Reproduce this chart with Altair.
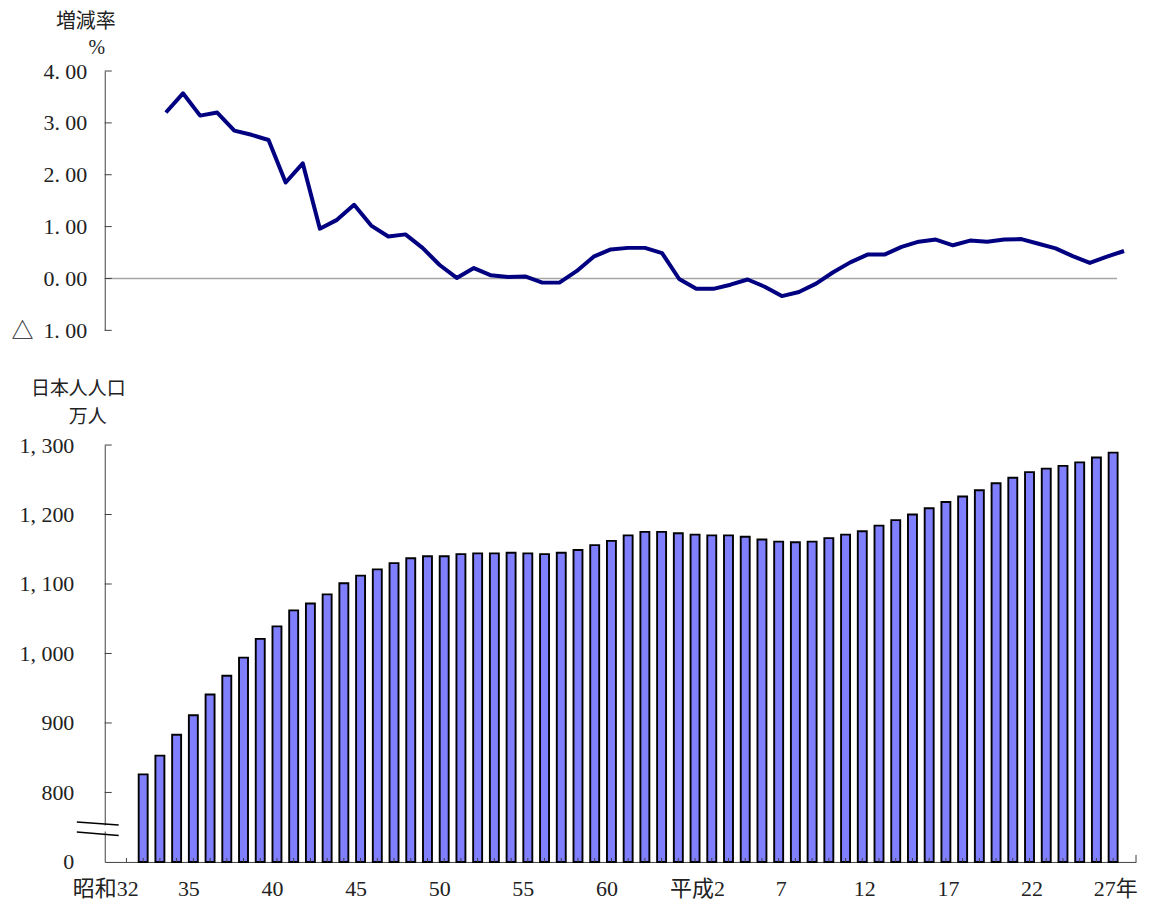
import altair as alt
import pandas as pd

# ---------------- data ----------------
bar_years = list(range(1957, 2016))
population = [826, 853, 883, 911, 941, 968, 994, 1021, 1039, 1062,
              1072, 1085, 1101, 1112, 1121, 1130, 1137, 1140, 1140, 1143,
              1144, 1144, 1145, 1144, 1143, 1145, 1149, 1156, 1162, 1170,
              1175, 1175, 1173, 1171, 1170, 1170, 1168, 1164, 1161, 1160,
              1161, 1166, 1171, 1176, 1184, 1192, 1200, 1209, 1218, 1226,
              1235, 1245, 1253, 1261, 1266, 1270, 1275, 1282, 1289]

rate_years = list(range(1958, 2015))
rates = [3.20, 3.57, 3.14, 3.20, 2.85, 2.77, 2.67, 1.85, 2.22, 0.96,
         1.13, 1.42, 1.02, 0.81, 0.85, 0.59, 0.26, 0.01, 0.20, 0.06,
         0.03, 0.04, -0.08, -0.08, 0.14, 0.42, 0.56, 0.59, 0.59, 0.49,
         -0.01, -0.20, -0.20, -0.12, -0.02, -0.16, -0.34, -0.26, -0.10, 0.12,
         0.31, 0.46, 0.46, 0.61, 0.71, 0.75, 0.64, 0.73, 0.71, 0.75,
         0.76, 0.67, 0.58, 0.43, 0.30, 0.42, 0.53]

tick_years = list(range(1956, 2016))
x_label_years = [1957, 1960, 1965, 1970, 1975, 1980, 1985, 1990, 1995, 2000, 2005, 2010, 2015]
x_label_texts = ["昭和32", "35", "40", "45", "50", "55", "60", "平成2", "7", "12", "17", "22", "27年"]

rate_ticks = [-1, 0, 1, 2, 3, 4]
pop_ticks = [700, 800, 900, 1000, 1100, 1200, 1300]

top_titles = ["増減率", "%"]
bottom_titles = ["日本人人口", "万人"]

# ---------------- style ----------------
NUM_FONT = "Liberation Serif, Noto Sans CJK JP"
JP_FONT = "Noto Sans CJK JP"
TXT = "#222222"
AXC = "#404040"
W_TOP, H_TOP = 1015, 260
W_BOT, H_BOT = 1034, 418

df_rate = pd.DataFrame({"year": rate_years, "rate": rates})
df_pop = pd.DataFrame({"year": bar_years, "pop": population})
one = pd.DataFrame({"k": [0]})

# ---------------- top chart ----------------
x_top = alt.Scale(domain=[1954.427, 2013.593], nice=False, zero=False)
y_top = alt.Scale(domain=[-1, 4], nice=False, zero=False)

rate_label_expr = (
    "datum.value < 0 ? '△   \u2009' + replace(format(-datum.value, '.2f'), '.', '. ')"
    " : replace(format(datum.value, '.2f'), '.', '. ')"
)


def y_top_axis():
    return alt.Axis(
        values=rate_ticks, ticks=False, grid=False, domainColor=AXC, domainWidth=1,
        labelFont=NUM_FONT, labelFontSize=22, labelColor=TXT, labelPadding=18,
        labelExpr=rate_label_expr, title=None)


zero_line = alt.Chart(pd.DataFrame({"rate": [0.0]})).mark_rule(
    color="#a6a6a6", strokeWidth=1.5
).encode(
    y=alt.Y("rate:Q", scale=y_top, axis=y_top_axis()),
    x=alt.value(0), x2=alt.value(W_TOP),
)

rate_line = alt.Chart(df_rate).mark_line(
    color="#000080", strokeWidth=4, strokeJoin="round", clip=False
).encode(
    x=alt.X("year:Q", scale=x_top, axis=None),
    y=alt.Y("rate:Q", scale=y_top, axis=y_top_axis()),
)

top_ticks = alt.Chart(pd.DataFrame({"rate": rate_ticks})).mark_rule(
    color=AXC, strokeWidth=1
).encode(
    y=alt.Y("rate:Q", scale=y_top, axis=y_top_axis()),
    x=alt.value(0), x2=alt.value(7),
)

t1 = alt.Chart(pd.DataFrame({"t": [top_titles[0]]})).mark_text(
    font=JP_FONT, fontSize=20, color=TXT, align="center", baseline="middle"
).encode(text="t:N", x=alt.value(-19), y=alt.value(-49))
t2 = alt.Chart(pd.DataFrame({"t": [top_titles[1]]})).mark_text(
    font=NUM_FONT, fontSize=20, color=TXT, align="center", baseline="middle"
).encode(text="t:N", x=alt.value(-8), y=alt.value(-23))

top = alt.layer(zero_line, rate_line, top_ticks, t1, t2).properties(
    width=W_TOP, height=H_TOP
)

# ---------------- bottom chart ----------------
x_bot = alt.Scale(domain=[1955, 2016.07], nice=False, zero=False)
y_bot = alt.Scale(domain=[700, 1300], nice=False, zero=False)

x_label_expr = ""
for yv, tx in zip(x_label_years, x_label_texts):
    x_label_expr += f"datum.value == {yv} ? '{tx}' : "
x_label_expr += "''"

pop_label_expr = "datum.value == 700 ? '0' : replace(format(datum.value, ','), ',', ', ')"


def x_bot_axis():
    return alt.Axis(
        values=x_label_years, ticks=False, grid=False, domainColor=AXC, domainWidth=1,
        labelFont=NUM_FONT, labelFontSize=22, labelColor=TXT, labelPadding=17,
        labelOffset={"condition": {"test": "datum.value >= 1990", "value": 2},
                     "value": -5},
        labelFlush=False, labelOverlap=False,
        labelAlign={"condition": {"test": "datum.value == 1957", "value": "right"},
                    "value": "center"},
        labelExpr=x_label_expr, title=None)


def y_bot_axis():
    return alt.Axis(
        values=pop_ticks, ticks=False, grid=False, domainColor=AXC, domainWidth=1,
        labelFont=NUM_FONT, labelFontSize=22, labelColor=TXT, labelPadding=31,
        labelExpr=pop_label_expr, title=None)


bars = alt.Chart(df_pop).mark_bar(
    size=9, fill="#8080ff", stroke="#000000", strokeWidth=1.9
).encode(
    x=alt.X("year:Q", scale=x_bot, axis=x_bot_axis()),
    y=alt.Y("pop:Q", scale=y_bot, axis=y_bot_axis()),
    y2=alt.datum(700),
)

x_ticks = alt.Chart(pd.DataFrame({"year": tick_years})).mark_rule(
    color=AXC, strokeWidth=1
).encode(
    x=alt.X("year:Q", scale=x_bot, axis=x_bot_axis()),
    y=alt.value(H_BOT), y2=alt.value(H_BOT - 4),
)
end_tick = alt.Chart(one).mark_rule(color=AXC, strokeWidth=1).encode(
    x=alt.value(W_BOT), y=alt.value(H_BOT), y2=alt.value(H_BOT - 7)
)
y_ticks = alt.Chart(pd.DataFrame({"pop": pop_ticks[1:]})).mark_rule(
    color=AXC, strokeWidth=1
).encode(
    y=alt.Y("pop:Q", scale=y_bot, axis=y_bot_axis()),
    x=alt.value(0), x2=alt.value(7),
)

# axis break symbol
gap = alt.Chart(one).mark_rect(fill="white").encode(
    x=alt.value(-3), x2=alt.value(3), y=alt.value(381.5), y2=alt.value(387.5)
)
brk1 = alt.Chart(one).mark_rule(color="#000000", strokeWidth=1.5).encode(
    x=alt.value(-28), x2=alt.value(14), y=alt.value(378), y2=alt.value(381)
)
brk2 = alt.Chart(one).mark_rule(color="#000000", strokeWidth=1.5).encode(
    x=alt.value(-28), x2=alt.value(14), y=alt.value(388), y2=alt.value(391.5)
)

b1 = alt.Chart(pd.DataFrame({"t": [bottom_titles[0]]})).mark_text(
    font=JP_FONT, fontSize=19, color=TXT, align="center", baseline="middle"
).encode(text="t:N", x=alt.value(-26.5), y=alt.value(-56))
b2 = alt.Chart(pd.DataFrame({"t": [bottom_titles[1]]})).mark_text(
    font=JP_FONT, fontSize=19, color=TXT, align="center", baseline="middle"
).encode(text="t:N", x=alt.value(-17), y=alt.value(-28.5))

bottom = alt.layer(bars, x_ticks, end_tick, y_ticks, gap, brk1, brk2, b1, b2).properties(
    width=W_BOT, height=H_BOT
)

chart = alt.vconcat(top, bottom, spacing=115, bounds="flush").properties(
    padding={"left": -8, "top": 3, "right": 5, "bottom": 5},
    background="white",
).configure_view(stroke=None)

chart.save("out.html", embed_options={"renderer": "svg", "actions": False})
